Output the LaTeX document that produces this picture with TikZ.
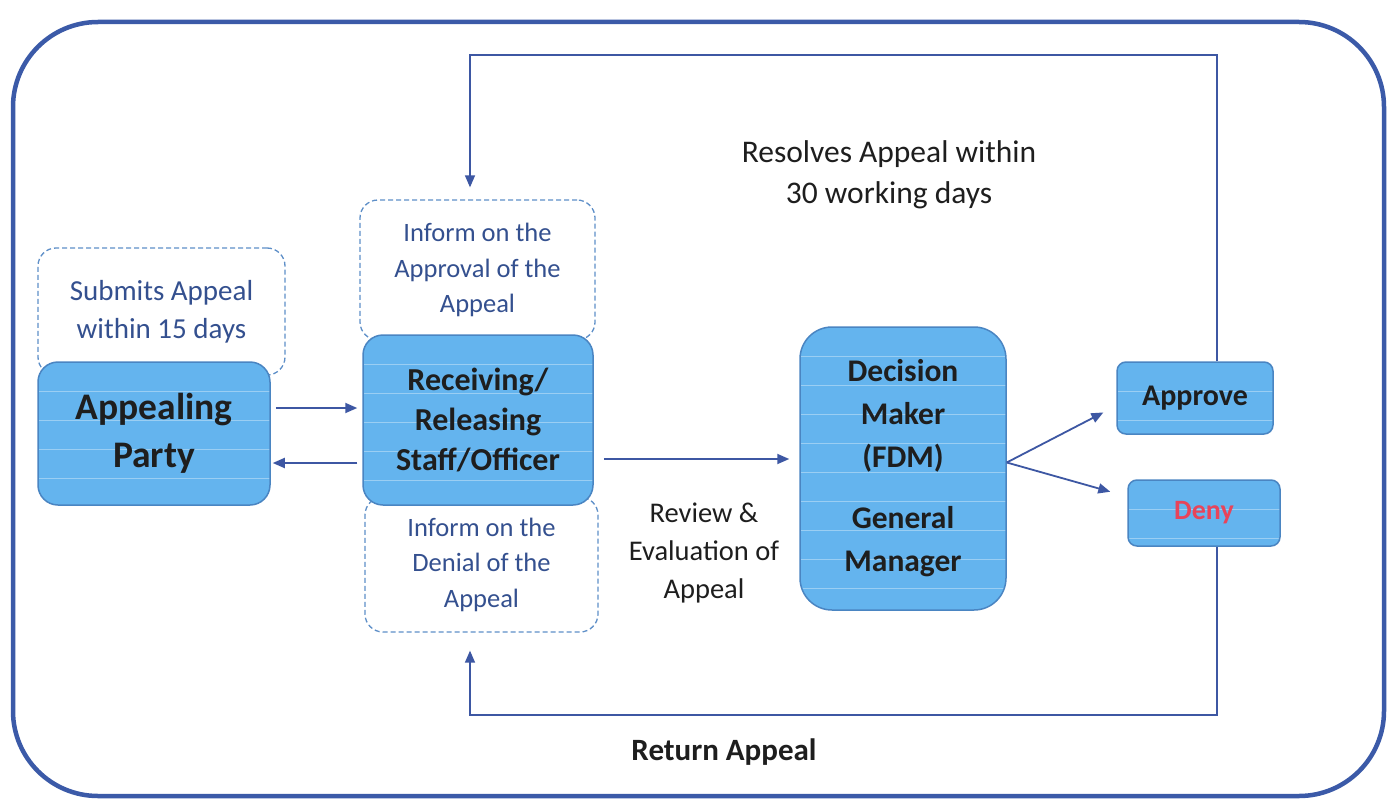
\documentclass[tikz,border=0pt]{standalone}
\usepackage{fontspec}
\setmainfont{Carlito}
\usetikzlibrary{arrows.meta}
\definecolor{framec}{HTML}{3B5AA8}
\definecolor{fillb}{HTML}{64B4EE}
\definecolor{edgeb}{HTML}{4A85C2}
\definecolor{dashc}{HTML}{5E8FC8}
\definecolor{txtb}{HTML}{34508F}
\definecolor{arr}{HTML}{3D57A3}
\definecolor{denyc}{HTML}{E8445A}
\definecolor{darktxt}{HTML}{1E1E1E}
\begin{document}
\begin{tikzpicture}[x=1pt,y=-1pt,
 solidbox/.style={draw=edgeb, line width=1.5pt, fill=fillb, rounded corners=20pt, align=center,
   text=darktxt, inner sep=0pt,
   path picture={\foreach \k in {1,...,10}{\draw[white,opacity=0.35,line width=0.8pt]
     ([yshift=-\k*29pt]path picture bounding box.north west) -- ([yshift=-\k*29pt]path picture bounding box.north east);}}},
 notebox/.style={draw=dashc, dash pattern=on 5pt off 3pt, line width=1.3pt, rounded corners=18pt,
   fill=white, align=center, text=txtb, inner sep=0pt},
 link/.style={draw=arr, line width=1.8pt, -{Triangle[length=12pt,width=10pt]}},
 loop/.style={draw=arr, line width=1.4pt, -{Triangle[length=12pt,width=10pt]}},
 lbl/.style={align=center, text=darktxt, inner sep=0pt},
]
\useasboundingbox (0,0) rectangle (1387,800);
\fill[white] (0,0) rectangle (1387,800);
\draw[framec, line width=4.5pt, rounded corners=85pt] (13,22) rectangle (1384,796);

% dashed notes (behind)
\node[notebox, minimum width=247pt, minimum height=127pt, font=\fontsize{29}{38}\selectfont] (sub) at (161.5,311.5)
  {Submits Appeal\\within 15 days};
\node[notebox, minimum width=235pt, minimum height=140pt, font=\fontsize{26.5}{35.5}\selectfont] (appr) at (477.5,270)
  {Inform on the\\Approval of the\\Appeal};
\node[notebox, minimum width=233pt, minimum height=135pt, font=\fontsize{26.5}{35.5}\selectfont] (den) at (481.5,564.5)
  {Inform on the\\Denial of the\\Appeal};

% filled boxes
\node[solidbox, minimum width=232pt, minimum height=143pt, font=\bfseries\fontsize{37.5}{48}\selectfont] (ap) at (154,433.5)
  {Appealing\\Party};
\node[solidbox, minimum width=230pt, minimum height=170pt, font=\bfseries\fontsize{32}{40}\selectfont] (rec) at (478,420)
  {Receiving/\\Releasing\\Staff/Officer};
\node[solidbox, rounded corners=32pt, minimum width=206pt, minimum height=283pt, font=\bfseries\fontsize{31.5}{43}\selectfont] (dec) at (903,468.5)
  {Decision\\Maker\\(FDM)\\[18pt]General\\Manager};
\node[solidbox, rounded corners=9pt, minimum width=156pt, minimum height=72pt, font=\bfseries\fontsize{30}{30}\selectfont] (app) at (1195,398)
  {Approve};
\node[solidbox, rounded corners=9pt, minimum width=152pt, minimum height=66pt, font=\bfseries\fontsize{28}{28}\selectfont, text=denyc] (deny) at (1204,513)
  {Deny};

% labels
\node[lbl, font=\fontsize{31.5}{41}\selectfont] (res) at (889,175) {Resolves Appeal within\\30 working days};
\node[lbl, font=\fontsize{28.5}{38}\selectfont] (rev) at (704,553) {Review \&\\Evaluation of\\Appeal};
\node[lbl, font=\bfseries\fontsize{31}{30}\selectfont] (ret) at (724,752) {Return Appeal};

% connectors
\draw[link, shorten <=5pt, shorten >=5pt] ([yshift=25.5pt]ap.east) -- ([yshift=25.5pt]ap.east -| rec.west);
\draw[link, shorten <=5pt, shorten >=2pt] ([yshift=-29.5pt]ap.east -| rec.west) -- ([yshift=-29.5pt]ap.east);
\draw[link, shorten <=10pt, shorten >=10pt] ([yshift=-39pt]rec.east) -- ([yshift=-39pt]rec.east -| dec.west);
\draw[link, shorten >=1pt] ([yshift=6pt]dec.east) -- ([shift={(-12,14)}]app.west);
\draw[link, shorten >=1pt] ([yshift=6pt]dec.east) -- ([shift={(-16,-21)}]deny.west);

\coordinate (tr) at (1217,55);
\coordinate (tl) at (470,55);
\coordinate (br) at (1217,715);
\coordinate (bl) at (470,715);
\draw[loop] ([xshift=22pt]app.north) -- (tr) -- (tl) -- ([yshift=12pt]tl |- appr.north);
\draw[loop] ([xshift=13pt]deny.south) -- (br) -- (bl) -- ([yshift=-18pt]bl |- den.south);
\end{tikzpicture}
\end{document}
